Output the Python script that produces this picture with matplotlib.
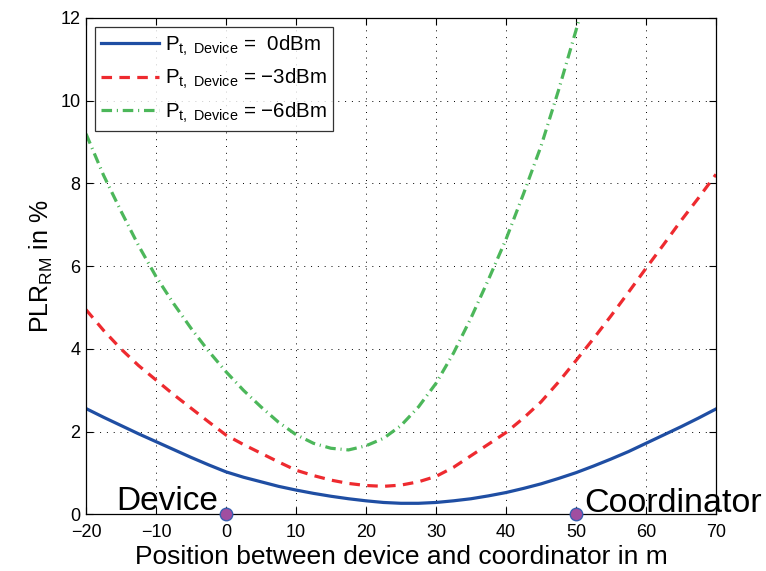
import matplotlib
matplotlib.use('Agg')
import matplotlib.pyplot as plt
from matplotlib import rcParams

rcParams['font.family'] = ['Liberation Sans', 'DejaVu Sans']
rcParams['mathtext.fontset'] = 'custom'
rcParams['mathtext.rm'] = 'Liberation Sans'
rcParams['mathtext.it'] = 'Liberation Sans:italic'
rcParams['axes.unicode_minus'] = True

# 位置 (m)
x_pos = [-20, -17.5, -15, -12.5, -10, -7.5, -5, -2.5, 0, 2.5, 5, 7.5, 10, 12.5, 15, 17.5,
         20, 22.5, 25, 27.5, 30, 32.5, 35, 37.5, 40, 42.5, 45, 47.5, 50, 52.5, 55, 57.5,
         60, 62.5, 65, 67.5, 70]

# PLR 曲线 (%)
plr_0dbm = [2.56, 2.35, 2.15, 1.95, 1.76, 1.57, 1.38, 1.2, 1.03, 0.9, 0.79, 0.68, 0.59,
            0.51, 0.44, 0.38, 0.33, 0.29, 0.27, 0.27, 0.29, 0.33, 0.38, 0.45, 0.53, 0.63,
            0.74, 0.87, 1.01, 1.17, 1.34, 1.52, 1.72, 1.92, 2.12, 2.33, 2.55]
plr_m3dbm = [4.95, 4.45, 4.0, 3.6, 3.25, 2.9, 2.57, 2.24, 1.92, 1.69, 1.48, 1.27, 1.07,
             0.94, 0.83, 0.75, 0.70, 0.68, 0.71, 0.79, 0.92, 1.14, 1.42, 1.7, 1.98, 2.33,
             2.72, 3.2, 3.72, 4.25, 4.8, 5.37, 5.95, 6.52, 7.1, 7.65, 8.22]
x_green = [-20, -17.5, -15, -12.5, -10, -7.5, -5, -2.5, 0, 2.5, 5, 7.5, 10, 12.5, 15, 17.5,
           20, 22.5, 25, 27.5, 30, 32.5, 35, 37.5, 40, 42.5, 45, 47.5, 50, 51]
plr_m6dbm = [9.2, 8.2, 7.33, 6.5, 5.75, 5.1, 4.5, 3.95, 3.45, 3.0, 2.6, 2.23, 1.93, 1.72,
             1.6, 1.56, 1.66, 1.84, 2.15, 2.6, 3.17, 3.9, 4.75, 5.68, 6.65, 7.75, 8.9,
             10.25, 11.7, 12.3]

legend_labels = ['P$_{\\rm t,\\ Device}$ =  0dBm',
                 'P$_{\\rm t,\\ Device}$ = \u22123dBm',
                 'P$_{\\rm t,\\ Device}$ = \u22126dBm']

node_x = [0, 50]
node_y = [0, 0]

fig = plt.figure(figsize=(7.66, 5.71), dpi=100)
ax = fig.add_axes([0.1123, 0.099, 0.8224, 0.8695])

ax.plot(x_pos, plr_0dbm, color='#1f4ea3', lw=2.3, label=legend_labels[0])
ax.plot(x_pos, plr_m3dbm, color='#ee2a2f', lw=2.3, dashes=(3.3, 2.3), label=legend_labels[1])
ax.plot(x_green, plr_m6dbm, color='#4cb75a', lw=2.3, dashes=(3.3, 1.5, 0.35, 1.5),
        label=legend_labels[2])

ax.plot(node_x, node_y, 'o', ms=9, mfc='#a04ea0', mec='#3a5fb0', mew=1, clip_on=False, zorder=5)
ax.text(-1.1, 0.1, 'Device', fontsize=24, ha='right', va='baseline')
ax.text(51.2, 0.07, 'Coordinator', fontsize=24.5, ha='left', va='baseline', clip_on=False)

ax.set_xlim(-20, 70)
ax.set_ylim(0, 12)
ax.set_xticks(range(-20, 71, 10))
ax.set_yticks(range(0, 13, 2))
ax.tick_params(direction='in', top=True, right=True, labelsize=13, length=5, width=0.8)
ax.tick_params(axis='x', pad=7)
ax.tick_params(axis='y', pad=4)
ax.grid(True, linestyle=(0, (1, 6)), color='black', linewidth=0.7)
for s in ax.spines.values():
    s.set_linewidth(0.9)

ax.set_xlabel('Position between device and coordinator in m', fontsize=19, labelpad=3)
ax.set_ylabel('PLR$_{\\rm RM}$ in %', fontsize=18, labelpad=4)

leg = ax.legend(loc='upper left', fontsize=14.8, frameon=True, fancybox=False,
                edgecolor='black', handlelength=2.8, borderaxespad=0.45,
                labelspacing=0.45, handletextpad=0.3, borderpad=0.3)
leg.get_frame().set_linewidth(0.9)

fig.savefig('out.png', dpi=100)
